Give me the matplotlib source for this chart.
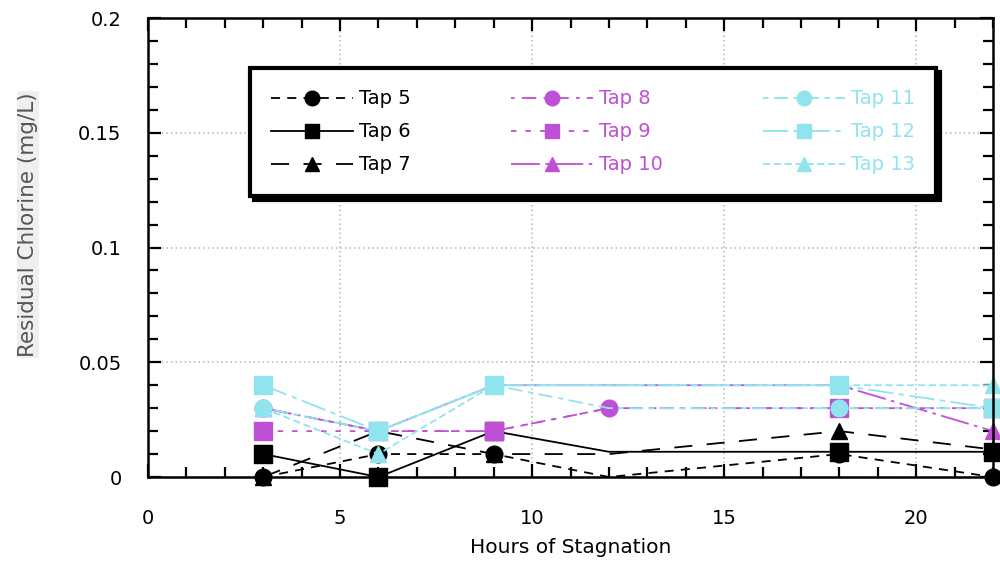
import matplotlib
matplotlib.use('Agg')
import matplotlib.pyplot as plt
from matplotlib.ticker import MultipleLocator, FixedLocator, FixedFormatter

# ---------------- data ----------------
hours = [3, 6, 9, 12, 18, 22]
tap5 = [0.0, 0.01, 0.01, 0.0, 0.01, 0.0]
tap6 = [0.01, 0.0, 0.02, 0.011, 0.011, 0.011]
tap7 = [0.0, 0.02, 0.01, 0.01, 0.02, 0.012]
tap8 = [0.03, 0.02, 0.02, 0.03, 0.03, 0.03]
tap9 = [0.02, 0.02, 0.02, 0.03, 0.03, 0.03]
tap10 = [0.03, 0.02, 0.04, 0.04, 0.04, 0.02]
tap11 = [0.03, 0.02, 0.04, 0.03, 0.03, 0.03]
tap12 = [0.04, 0.02, 0.04, 0.04, 0.04, 0.03]
tap13 = [0.03, 0.01, 0.04, 0.04, 0.04, 0.04]
# markers drawn at measured points (12 h vertex unmarked except Tap 8)
marked = [True, True, True, False, True, True]
marked_all = [True, True, True, True, True, True]

labels = ["Tap 5", "Tap 6", "Tap 7", "Tap 8", "Tap 9", "Tap 10",
          "Tap 11", "Tap 12", "Tap 13"]
x_ticks = [0, 5, 10, 15, 20]
x_ticklabels = ["0", "5", "10", "15", "20"]
y_ticks = [0, 0.05, 0.1, 0.15, 0.2]
y_ticklabels = ["0", "0.05", "0.1", "0.15", "0.2"]

BLACK = "#000000"
MAG = "#BE50D6"
CYAN = "#90E4EE"

series = [
    (tap5, BLACK, "o", (0, (5, 4)), marked),
    (tap6, BLACK, "s", "-", marked),
    (tap7, BLACK, "^", (0, (10, 8)), marked),
    (tap8, MAG, "o", (0, (2, 4, 8, 4)), marked_all),
    (tap9, MAG, "s", (0, (3, 5)), marked),
    (tap10, MAG, "^", (0, (16, 3, 2, 3)), marked),
    (tap11, CYAN, "o", (0, (3, 3, 8, 3)), marked),
    (tap12, CYAN, "s", (0, (14, 3, 3, 3)), marked),
    (tap13, CYAN, "^", (0, (4, 2)), marked),
]

plt.rcParams['font.family'] = ['DejaVu Sans']

fig = plt.figure(figsize=(10, 5.61), dpi=100)
ax = fig.add_axes([0.148, 0.1497, 0.845, 0.8182])

for (vals, col, mk, ls, mev), lab in zip(series, labels):
    ms = 13 if mk == "s" else 12
    ax.plot(hours, vals, color=col, linestyle=ls, linewidth=1.3,
            marker=mk, markersize=ms, markerfacecolor=col,
            markeredgecolor=col, markevery=mev, label=lab, clip_on=False)

ax.set_xlim(0, 22)
ax.set_ylim(0, 0.2)
ax.xaxis.set_major_locator(FixedLocator(x_ticks))
ax.xaxis.set_major_formatter(FixedFormatter(x_ticklabels))
ax.xaxis.set_minor_locator(MultipleLocator(1))
ax.yaxis.set_major_locator(FixedLocator(y_ticks))
ax.yaxis.set_major_formatter(FixedFormatter(y_ticklabels))
ax.yaxis.set_minor_locator(MultipleLocator(0.01))

ax.tick_params(which='both', direction='in', top=True, right=True,
               width=1.6, colors='black')
ax.tick_params(which='major', length=9.5)
ax.tick_params(which='minor', length=7)
ax.tick_params(axis='y', which='major', labelsize=14, pad=19)
ax.tick_params(axis='x', which='major', labelsize=14, pad=23)

for sp in ax.spines.values():
    sp.set_linewidth(1.8)

ax.grid(True, which='major', color='#b5b5b5', linestyle=(0, (1, 2)),
        linewidth=1.1)
ax.set_axisbelow(True)

ax.set_xlabel("Hours of Stagnation", fontsize=14.5, labelpad=7)
ax.set_ylabel("Residual Chlorine (mg/L)", fontsize=15.5, color='#555555',
              bbox=dict(facecolor='#efefef', edgecolor='none', pad=1))
ax.yaxis.set_label_coords(-0.13, 0.55)

leg = ax.legend(ncol=3, loc='upper left',
                bbox_to_anchor=(250 / 1000, 1 - 194 / 561, 686 / 1000, 126 / 561),
                bbox_transform=fig.transFigure, mode='expand',
                borderaxespad=0,
                fontsize=14, labelcolor='linecolor', handlelength=4.2,
                handletextpad=0.3, labelspacing=0.72, borderpad=1.1,
                fancybox=False, framealpha=1, edgecolor='black',
                shadow={'ox': 3, 'oy': -3, 'facecolor': 'black',
                        'edgecolor': 'black', 'alpha': 1})
leg.get_frame().set_linewidth(3)
for h in leg.legend_handles:
    h.set_markersize(10.5)

fig.savefig("out.png", dpi=100)
